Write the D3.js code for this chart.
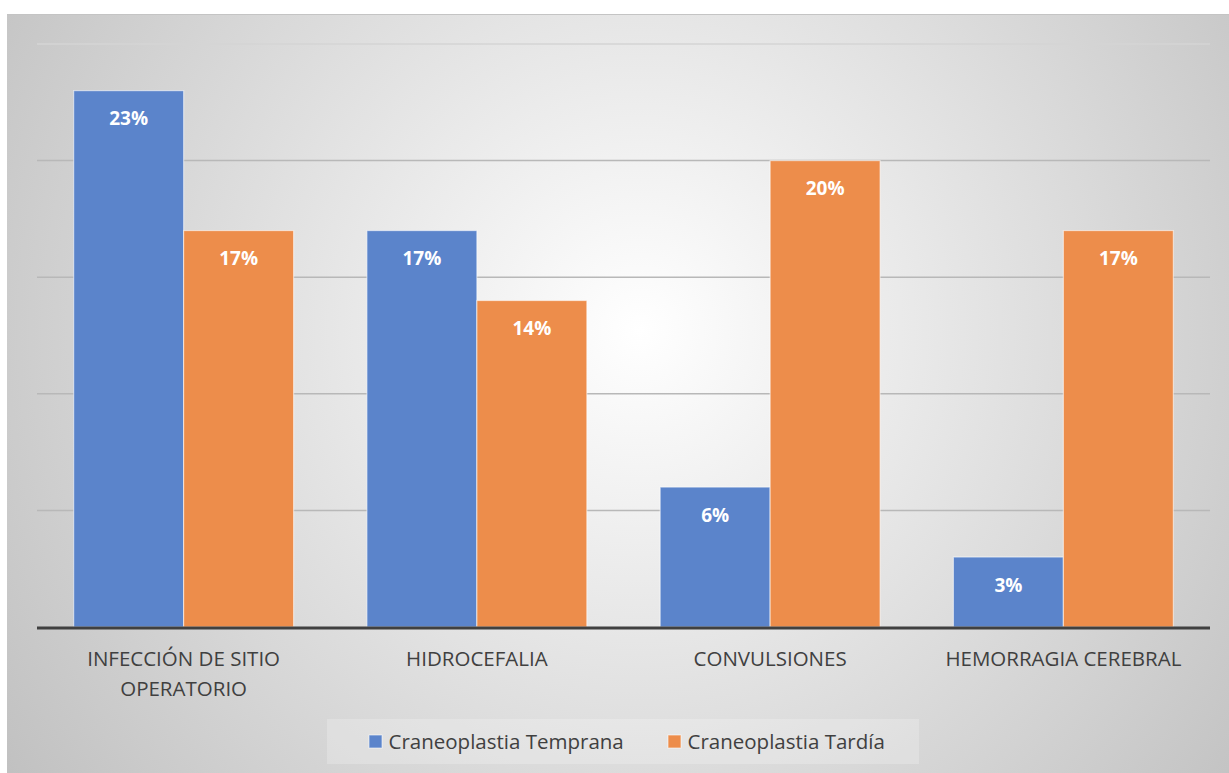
<!DOCTYPE html>
<html>
<head>
<meta charset="utf-8">
<script src="https://cdn.jsdelivr.net/npm/d3@7"></script>
<style>
  body{margin:0;background:#fff;}
  svg{display:block;}
</style>
</head>
<body>
<svg id="chart" width="1229" height="773"></svg>
<script>
'use strict';
var categories = [['INFECCIÓN DE SITIO','OPERATORIO'],['HIDROCEFALIA'],['CONVULSIONES'],['HEMORRAGIA CEREBRAL']];
var series = ['Craneoplastia Temprana','Craneoplastia Tardía'];
var temprana = [23,17,6,3];
var tardia = [17,14,20,17];
var yTicks = [0,5,10,15,20,25];
var colors = ['#5b84cb','#ed8d4b'];

var width = 1229, height = 773;
var svg = d3.select('#chart');

// background gradient
var defs = svg.append('defs');
var grad = defs.append('radialGradient').attr('id','bg')
  .attr('gradientUnits','userSpaceOnUse')
  .attr('cx',640).attr('cy',330).attr('r',820);
grad.append('stop').attr('offset','0%').attr('stop-color','#ffffff');
grad.append('stop').attr('offset','100%').attr('stop-color','#bdbdbd');

svg.append('rect').attr('x',7).attr('y',14).attr('width',width-7).attr('height',height-14)
  .style('fill','url(#bg)');
svg.append('line').attr('x1',7).attr('x2',width).attr('y1',14.5).attr('y2',14.5)
  .style('stroke','#c4c4c4').style('stroke-width',1);

var plotLeft = 37, plotRight = 1210, plotTop = 44, plotBottom = 627;

var x0 = d3.scaleBand().domain(d3.range(categories.length))
  .range([plotLeft,plotRight]).paddingInner(0.25).paddingOuter(0.125);
var x1 = d3.scaleBand().domain(d3.range(series.length)).range([0,x0.bandwidth()]);
var y = d3.scaleLinear().domain([0,25]).range([plotBottom,plotTop]);

// gridlines
svg.append('g').selectAll('line')
  .data(yTicks.slice(1))
  .enter().append('line')
  .attr('x1',plotLeft).attr('x2',plotRight)
  .attr('y1',d=>y(d)).attr('y2',d=>y(d))
  .style('stroke',(d,i)=> d===25 ? '#d4d4d4' : '#b8b8b8')
  .style('stroke-width',1.5);

var table = categories.map((c,i)=>({i:i, values:[temprana[i],tardia[i]]}));

var groups = svg.append('g').selectAll('g')
  .data(table).enter().append('g')
  .attr('transform',d=>'translate('+x0(d.i)+',0)');

groups.selectAll('rect')
  .data(d=>d.values.map((v,s)=>({v:v,s:s})))
  .enter().append('rect')
  .attr('x',d=>x1(d.s))
  .attr('y',d=>y(d.v))
  .attr('width',x1.bandwidth())
  .attr('height',d=>y(0)-y(d.v))
  .style('fill',d=>colors[d.s])
  .style('stroke','rgba(255,255,255,0.55)')
  .style('stroke-width',1.2);

groups.selectAll('text.val')
  .data(d=>d.values.map((v,s)=>({v:v,s:s})))
  .enter().append('text').attr('class','val')
  .attr('x',d=>x1(d.s)+x1.bandwidth()/2)
  .attr('y',d=>y(d.v)+28)
  .attr('dy','0.35em')
  .style('text-anchor','middle')
  .style('font-family','"Open Sans", sans-serif')
  .style('font-weight','bold')
  .style('font-size','19px')
  .style('fill','#ffffff')
  .text(d=>d.v+'%');

// axis line
svg.append('line').attr('x1',plotLeft).attr('x2',plotRight)
  .attr('y1',y(0)+1).attr('y2',y(0)+1)
  .style('stroke','#404040').style('stroke-width',3);

// category labels
svg.append('g').selectAll('text')
  .data(categories).enter().append('text')
  .attr('x',(d,i)=>x0(i)+x0.bandwidth()/2)
  .attr('y',666)
  .style('text-anchor','middle')
  .style('font-family','"Open Sans", sans-serif')
  .style('font-size','20.5px')
  .style('fill','#404040')
  .each(function(d){
    var t = d3.select(this);
    d.forEach(function(line,k){
      t.append('tspan').attr('x',t.attr('x')).attr('dy',k===0?0:30).text(line);
    });
  });

// legend
var legend = svg.append('g').attr('transform','translate(327,719)');
legend.append('rect').attr('width',592).attr('height',45)
  .style('fill','rgba(255,255,255,0.22)');
var legendX = [42,341];
var items = legend.selectAll('g').data(series).enter().append('g')
  .attr('transform',(d,i)=>'translate('+legendX[i]+',0)');
items.append('rect').attr('x',0).attr('y',16).attr('width',13).attr('height',13)
  .style('fill',(d,i)=>colors[i]).style('stroke','rgba(255,255,255,0.6)');
items.append('text').attr('x',19.5).attr('y',22.5).attr('dy','0.35em')
  .style('font-family','"Open Sans", sans-serif')
  .style('font-size','20.5px')
  .style('fill','#404040')
  .text(d=>d);
</script>
</body>
</html>
